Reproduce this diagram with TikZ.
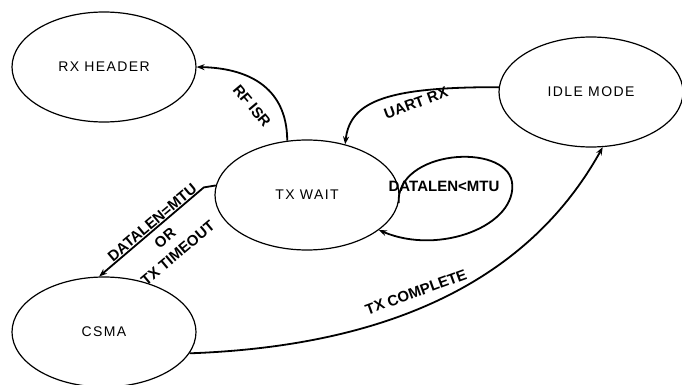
\documentclass[tikz,border=0pt]{standalone}
\usepackage{fontspec}
\setmainfont{Liberation Sans}
\newfontfamily\statefont[LetterSpace=10]{Liberation Sans}
\usetikzlibrary{shapes.geometric,arrows.meta}

\tikzset{
  stateoval/.style={ellipse,draw,line width=1.2pt,minimum width=184pt,minimum height=110pt,
    inner sep=0pt,font=\statefont\fontsize{14}{16}\selectfont},
  trans/.style={line width=1.8pt,-{Stealth[length=8pt,width=6pt]}},
  translabel/.style={font=\bfseries\fontsize{15}{20}\selectfont,inner sep=0pt,align=center}
}

\begin{document}
\begin{tikzpicture}[x=1pt,y=-1pt]
        \useasboundingbox (0,0) rectangle (682,385);

        \node[stateoval] (rxheader) at (104,67) {RX HEADER};
        \node[stateoval] (idle) at (591,92) {IDLE MODE};
        \node[stateoval] (txwait) at (307,195) {TX WAIT};
        \node[stateoval] (csma) at (104,332) {CSMA};

        \draw[trans] (txwait.110) .. controls (287,85) and (245,68) .. (rxheader.east);
        \draw[trans] (idle.177) .. controls (390,87) and (350,100) .. (txwait.53);
        \draw[trans] (txwait.-5) .. controls (396,150) and (505,142) .. (512,182)
            .. controls (518,225) and (440,256) .. (txwait.-26);
        \draw[trans] (txwait.174) -- ++(-12,2) -- (csma.95);
        \draw[trans] (csma.-14) .. controls (420,345) and (540,260) .. (idle.-78);

        \node[translabel,rotate=-50] (rfisr) at (252,106) {RF ISR};
        \node[translabel,rotate=20] (uartrx) at (416,103) {UART RX};
        \node[translabel] (datalen) at (444,186) {DATALEN<MTU};
        \node[translabel,rotate=40] (tocsma) at (165,238) {DATALEN=MTU\\OR\\TX TIMEOUT};
        \node[translabel,rotate=20] (txdone) at (416,292) {TX COMPLETE};
    \end{tikzpicture}
\end{document}
